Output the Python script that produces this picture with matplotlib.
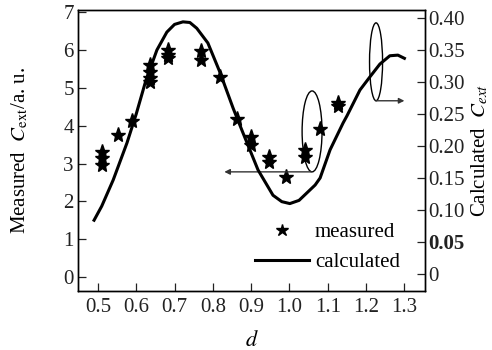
import matplotlib
matplotlib.use("Agg")
import matplotlib.pyplot as plt
from matplotlib.patches import Ellipse

plt.rcParams['font.family'] = ['Liberation Serif', 'DejaVu Serif']
plt.rcParams['mathtext.fontset'] = 'stix'

# measured (left axis, a.u.)
meas_d = [0.51, 0.51, 0.51, 0.552, 0.59, 0.637, 0.637, 0.637, 0.637,
          0.683, 0.683, 0.683, 0.77, 0.77, 0.818, 0.862, 0.90, 0.90,
          0.947, 0.947, 0.99, 1.04, 1.04, 1.08, 1.127, 1.127]
meas_c = [3.31, 3.15, 2.96, 3.76, 4.12, 5.6, 5.42, 5.26, 5.15,
          6.0, 5.87, 5.8, 5.98, 5.74, 5.3, 4.18, 3.7, 3.5,
          3.17, 3.04, 2.65, 3.36, 3.17, 3.92, 4.6, 4.52]

# calculated (right axis)
calc_d = [0.49, 0.51, 0.54, 0.576, 0.60, 0.625, 0.654, 0.68, 0.70, 0.722,
          0.74, 0.758, 0.787, 0.818, 0.853, 0.879, 0.918, 0.957, 0.98,
          1.001, 1.025, 1.046, 1.067, 1.08, 1.106, 1.14, 1.15, 1.184,
          1.21, 1.236, 1.262, 1.283, 1.30]
calc_c = [0.084, 0.106, 0.147, 0.205, 0.250, 0.302, 0.350, 0.378, 0.390, 0.394,
          0.393, 0.384, 0.361, 0.316, 0.259, 0.220, 0.1625, 0.123, 0.113,
          0.110, 0.115, 0.127, 0.139, 0.150, 0.194, 0.236, 0.247, 0.2875,
          0.308, 0.328, 0.341, 0.342, 0.337]

xticks = [0.5, 0.6, 0.7, 0.8, 0.9, 1.0, 1.1, 1.2, 1.3]
lticks = [0, 1, 2, 3, 4, 5, 6, 7]
rticks = [0, 0.05, 0.10, 0.15, 0.20, 0.25, 0.30, 0.35, 0.40]
rlabels = ['0', '0.05', '0.10', '0.15', '0.20', '0.25', '0.30', '0.35', '0.40']

fig = plt.figure(figsize=(4.92, 3.5), dpi=100)
ax = fig.add_axes([0.1585, 0.1686, 0.7055, 0.8028])
ax2 = ax.twinx()

fs = 15
ax.set_xlim(0.448, 1.354)
ax.set_ylim(-0.37, 7.06)
ax2.set_ylim(-0.0266, 0.4125)

sc, = ax.plot(meas_d, meas_c, linestyle='none', marker='*', color='black',
              markersize=11, label='measured')
ln, = ax2.plot(calc_d, calc_c, color='black', lw=2.2, label='calculated')

ax.set_xticks(xticks)
ax.set_xticklabels([f"{v:.1f}" for v in xticks])
ax.set_yticks(lticks)
ax2.set_yticks(rticks)
ax2.set_yticklabels(rlabels)
for lab in ax2.get_yticklabels():
    if lab.get_text() == '0.05':
        lab.set_fontweight('bold')

ax.tick_params(axis='both', direction='in', length=6, width=0.9, labelsize=fs,
               colors='#222222')
ax.tick_params(axis='x', pad=5)
ax.tick_params(axis='y', pad=3)
ax2.tick_params(axis='y', direction='in', length=6, width=0.9, labelsize=fs,
                colors='#222222', pad=2)
for a in (ax, ax2):
    for s in a.spines.values():
        s.set_linewidth(1.0)

ax.set_xlabel(r"$d$", fontsize=fs + 1, labelpad=10)
ax.set_ylabel(r"Measured  $C_{\mathrm{ext}}$/a. u.", fontsize=fs, labelpad=24)
ax2.set_ylabel(r"Calculated  $C_{ext}$", fontsize=fs, labelpad=4)

# annotations: ellipses and arrows
ax.add_patch(Ellipse((1.059, 3.85), 0.052, 2.14, fill=False, lw=1.0, color='black'))
ax.add_patch(Ellipse((1.226, 5.69), 0.034, 2.06, fill=False, lw=1.0, color='black'))
ax.annotate('', xy=(0.83, 2.78), xytext=(1.057, 2.78),
            arrowprops=dict(arrowstyle='-|>', color='#333333', lw=1.0,
                            mutation_scale=8, shrinkA=0, shrinkB=0))
ax.annotate('', xy=(1.30, 4.66), xytext=(1.226, 4.66),
            arrowprops=dict(arrowstyle='-|>', color='#333333', lw=1.0,
                            mutation_scale=8, shrinkA=0, shrinkB=0))

leg = ax.legend([sc, ln], ['measured', 'calculated'], loc='lower left',
                bbox_to_anchor=(0.455, 0.0), frameon=False, fontsize=fs,
                handlelength=2.6, handletextpad=0.3, labelspacing=0.5,
                borderaxespad=0.5)
leg.legend_handles[0].set_markersize(9)
ln_h = leg.legend_handles[1]
ln_h.set_linewidth(2.2)

fig.savefig("out.png", dpi=100)
